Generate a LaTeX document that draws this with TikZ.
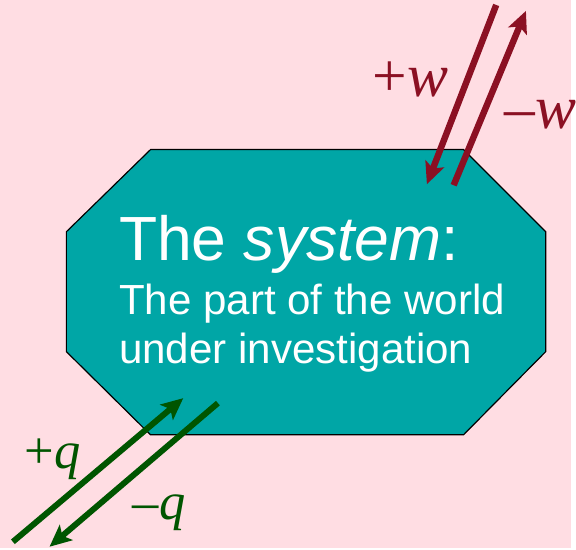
\documentclass[tikz,border=0pt]{standalone}
\usepackage{fontspec}
\setmainfont{Liberation Serif}
\setsansfont{Liberation Sans}
\usetikzlibrary{arrows.meta,positioning}

\definecolor{bgpink}{RGB}{255,221,227}
\definecolor{systeal}{RGB}{0,166,166}
\definecolor{workred}{RGB}{139,16,35}
\definecolor{heatgreen}{RGB}{0,85,0}

\tikzset{
    systext/.style={text=white, inner sep=0pt, anchor=base west, font=\sffamily},
    flowlabel/.style={inner sep=0pt, anchor=base west},
    workflow/.style={draw=workred, line width=6.5pt, -{Stealth[length=22pt,width=20pt,inset=5pt]}},
    heatflow/.style={draw=heatgreen, line width=6pt, -{Stealth[length=22pt,width=20pt,inset=5pt]}}
}

\begin{document}
\begin{tikzpicture}[x=1pt, y=-1pt]
% background
\fill[bgpink] (0,0) rectangle (576,553);

% the system
\draw[
    fill=systeal,
    line width=1.2pt
] (152,151) -- (468,151) -- (551,234) -- (551,355)
  -- (468,439) -- (152,439) -- (67,355) -- (67,234) -- cycle;

\node[systext, font=\sffamily\fontsize{63}{63}\selectfont] (title) at (120,263)
    {The \textit{system}:};
\node[systext, font=\sffamily\fontsize{42.5}{42.5}\selectfont] (part) at ([yshift=-55pt]title.base west)
    {The part of the world};
\node[systext, font=\sffamily\fontsize{42.5}{42.5}\selectfont] (under) at ([yshift=-49pt]part.base west)
    {under investigation};

% work
\coordinate (win) at (501,5);
\coordinate (wintip) at (431,186);
\coordinate (wout) at (458,187);
\coordinate (wouttip) at (531,11);
\draw[workflow] (win) -- (wintip);
\draw[workflow] (wout) -- (wouttip);
\node[flowlabel, text=workred, font=\fontsize{62}{62}\selectfont] (pw) at (376,97) {+\textit{w}};
\node[flowlabel, text=workred, font=\fontsize{62}{62}\selectfont] (mw) at (509,130) {–\textit{w}};

% heat
\coordinate (qin) at (13,547);
\coordinate (qintip) at (185,402);
\coordinate (qout) at (220,407);
\coordinate (qouttip) at (50,552);
\draw[heatflow] (qin) -- (qintip);
\draw[heatflow] (qout) -- (qouttip);
\node[flowlabel, text=heatgreen, font=\fontsize{53}{53}\selectfont] (pq) at (25,473) {+\textit{q}};
\node[flowlabel, text=heatgreen, font=\fontsize{53}{53}\selectfont] (mq) at (134,525) {–\textit{q}};
\end{tikzpicture}
\end{document}
